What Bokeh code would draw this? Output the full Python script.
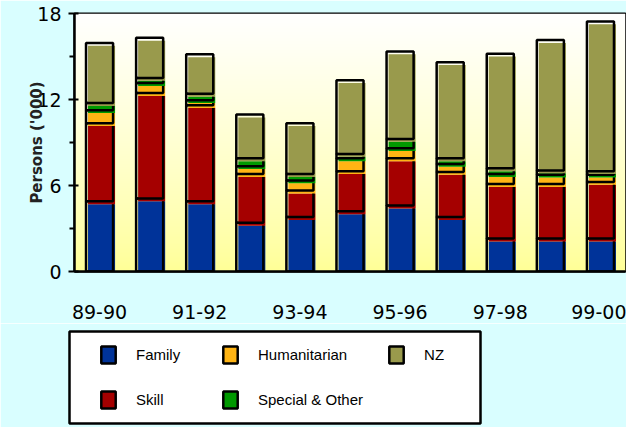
import numpy as np
from bokeh.plotting import figure
from bokeh.layouts import column
from bokeh.models import ColumnDataSource, FixedTicker, Legend, LegendItem, Range1d
from bokeh.embed import file_html
from bokeh.resources import INLINE

years = ["89-90", "90-91", "91-92", "92-93", "93-94", "94-95",
         "95-96", "96-97", "97-98", "98-99", "99-00"]
tick_years = ["89-90", "91-92", "93-94", "95-96", "97-98", "99-00"]
y_ticks = [0, 6, 12, 18]
y_minor = [3, 9, 15]

family = [4.9, 5.1, 4.9, 3.4, 3.8, 4.2, 4.6, 3.8, 2.3, 2.3, 2.3]
skill = [5.45, 7.35, 6.7, 3.4, 1.85, 2.8, 3.3, 3.15, 3.8, 3.8, 3.95]
humanitarian = [0.9, 0.7, 0.35, 0.55, 0.7, 0.9, 0.7, 0.55, 0.7, 0.65, 0.5]
special = [0.5, 0.35, 0.45, 0.55, 0.45, 0.3, 0.65, 0.4, 0.4, 0.3, 0.25]
nz = [4.2, 2.8, 2.75, 3.05, 3.55, 5.15, 6.1, 6.7, 8.0, 9.1, 10.45]

series = [
    ("Family", family, "#003399"),
    ("Skill", skill, "#A50000"),
    ("Humanitarian", humanitarian, "#FFB414"),
    ("Special & Other", special, "#009900"),
    ("NZ", nz, "#999A4C"),
]

BG = "#D9FEFF"
n = len(years)
x = np.arange(n, dtype=float)

p = figure(width=626, height=323,
           x_range=Range1d(-0.5, n - 0.5), y_range=Range1d(0, 18),
           output_backend="svg", toolbar_location=None,
           min_border_left=74, min_border_right=1,
           min_border_top=13, min_border_bottom=52)

p.border_fill_color = BG
p.background_fill_color = "#FFFFCC"
p.outline_line_color = "black"
p.outline_line_width = 2
p.xgrid.visible = False
p.ygrid.visible = False

# background gradient of plot area (white top -> pale yellow bottom)
ng = 200
t = np.linspace(0, 1, ng)
img = np.zeros((ng, 1), dtype=np.uint32)
view = img.view(dtype=np.uint8).reshape((ng, 1, 4))
view[:, 0, 0] = 255
view[:, 0, 1] = 255
view[:, 0, 2] = (150 + (255 - 150) * t ** 0.8).astype(np.uint8)
view[:, 0, 3] = 255
p.image_rgba(image=[img], x=-0.5, y=0, dw=n, dh=18)

w = 0.54
DX = 0.04
DY = 0.2
base = np.zeros(n)
sources = []
for name, vals, color in series:
    top = base + np.array(vals)
    fsrc = ColumnDataSource(dict(left=x - w / 2 + DX, right=x + w / 2 + DX,
                                 bottom=base - DY, top=top - DY))
    osrc = ColumnDataSource(dict(left=x - w / 2, right=x + w / 2,
                                 bottom=base, top=top))
    p.quad(left="left", right="right", bottom="bottom", top="top",
           source=fsrc, fill_color=color, line_color=None)
    p.quad(left="left", right="right", bottom="bottom", top="top",
           source=osrc, fill_color=None, line_color="black", line_width=2.5)
    sources.append((fsrc, osrc))
    base = top

# axes
p.yaxis.ticker = FixedTicker(ticks=y_ticks, minor_ticks=y_minor)
p.yaxis.axis_line_color = "black"
p.yaxis.axis_line_width = 2.5
p.yaxis.major_tick_line_color = "black"
p.yaxis.major_tick_line_width = 2
p.yaxis.major_tick_out = 6
p.yaxis.major_tick_in = 4
p.yaxis.minor_tick_line_color = "black"
p.yaxis.minor_tick_line_width = 2
p.yaxis.minor_tick_out = 5
p.yaxis.minor_tick_in = 0
p.yaxis.major_label_standoff = 7
p.yaxis.major_label_text_font = "DejaVu Sans"
p.yaxis.major_label_text_font_size = "19px"
p.yaxis.major_label_text_color = "black"
p.yaxis.axis_label = "Persons ('000)"
p.yaxis.axis_label_standoff = -12
p.yaxis.axis_label_text_font = "DejaVu Sans"
p.yaxis.axis_label_text_font_style = "bold"
p.yaxis.axis_label_text_font_size = "15px"
p.yaxis.axis_label_text_color = "#222222"
yax = p.yaxis[0]
if "axis_label_background_fill_color" in yax.properties():
    yax.axis_label_background_fill_color = "white"

tick_idx = [years.index(ty) for ty in tick_years]
p.xaxis.ticker = FixedTicker(ticks=tick_idx, minor_ticks=[])
p.xaxis.major_label_overrides = {i: years[i] for i in tick_idx}
p.xaxis.axis_line_color = "black"
p.xaxis.axis_line_width = 2.5
p.xaxis.major_tick_line_color = None
p.xaxis.minor_tick_line_color = None
p.xaxis.major_label_standoff = 27
p.xaxis.major_label_text_font = "DejaVu Sans"
p.xaxis.major_label_text_font_size = "19px"
p.xaxis.major_label_text_color = "black"

# legend panel (separate figure below the chart; its frame is the legend box)
p2 = figure(width=626, height=104, x_range=Range1d(-3, -2), y_range=Range1d(-3, -2),
            x_axis_type=None, y_axis_type=None,
            output_backend="svg", toolbar_location=None,
            min_border_left=69, min_border_right=146,
            min_border_top=8, min_border_bottom=4)
p2.border_fill_color = BG
p2.background_fill_color = "white"
p2.outline_line_color = "black"
p2.outline_line_width = 2.5

for fig in (p, p2):
    if "frame_align" in fig.properties():
        fig.frame_align = False

items = []
for (name, vals, color), (fsrc, osrc) in zip(series, sources):
    fr = p2.quad(left="left", right="right", bottom="bottom", top="top",
                 source=fsrc, fill_color=color, line_color=None)
    orr = p2.quad(left="left", right="right", bottom="bottom", top="top",
                  source=osrc, fill_color=None, line_color="black", line_width=2.5)
    items.append(LegendItem(label=name, renderers=[fr, orr]))

legend = Legend(items=items, orientation="vertical", nrows=2,
                location="left", margin=30, padding=0,
                glyph_width=18, glyph_height=21, label_height=21,
                label_width=61, label_standoff=19, spacing=24,
                border_line_color=None, background_fill_alpha=0,
                label_text_font="Liberation Sans",
                label_text_font_size="15px", label_text_color="black")
p2.add_layout(legend)

layout = column(p, p2, spacing=0)
open("out.html", "w").write(file_html(layout, INLINE))
